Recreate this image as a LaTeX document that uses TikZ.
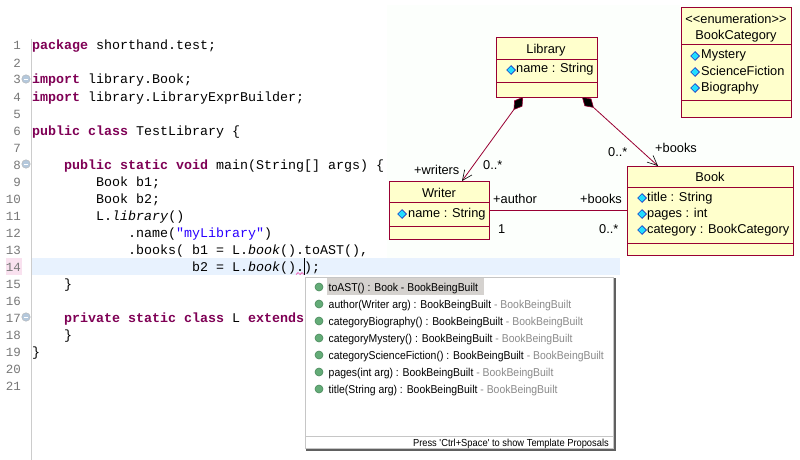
\documentclass[tikz,border=0pt]{standalone}
\usepackage{fontspec}
\usetikzlibrary{arrows.meta,shapes.geometric}
\setmonofont{Liberation Mono}
\newfontfamily\uifont{Liberation Sans}
\newfontfamily\popfont[FakeStretch=0.915]{Liberation Sans}
\definecolor{kw}{HTML}{7F0055}
\definecolor{strc}{HTML}{2A00FF}
\definecolor{numc}{HTML}{787878}
\definecolor{maroon}{HTML}{990033}
\definecolor{umlfill}{HTML}{FFFFCC}
\definecolor{hl}{HTML}{E8F2FE}
\definecolor{suffix}{HTML}{8A8A8A}
\definecolor{ballc}{HTML}{64AC78}
\definecolor{ballrim}{HTML}{4A8A5C}
\definecolor{iconc}{HTML}{22DDFF}
\definecolor{foldc}{HTML}{B4C8DC}
\newcommand{\kwd}[1]{\textcolor{kw}{\bfseries #1}}
\tikzset{
  code/.style={anchor=base west,inner sep=0,font=\ttfamily\fontsize{13.33}{16}\selectfont,text=black},
  lnum/.style={anchor=base east,inner sep=0,font=\ttfamily\fontsize{12.5}{16}\selectfont,text=numc},
  umlbox/.style={draw=maroon,fill=umlfill,line width=0.9pt,anchor=north west,inner sep=0,outer sep=0},
  sepline/.style={draw=maroon,line width=0.9pt},
  conn/.style={draw=maroon,line width=0.8pt},
  umltxt/.style={anchor=base west,inner sep=0,font=\uifont\fontsize{12.8}{15}\selectfont,text=black},
  umlmid/.style={umltxt,anchor=base},
  attricon/.style={diamond,draw=blue!70!black,fill=iconc,line width=0.5pt,inner sep=0,minimum width=9pt,minimum height=9pt},
  ball/.style={circle,fill=ballc,draw=ballrim,line width=0.6pt,inner sep=0,minimum size=8pt},
  popuptxt/.style={anchor=base west,inner sep=0,font=\popfont\fontsize{11.4}{14}\selectfont,text=black},
  statustxt/.style={anchor=base east,inner sep=0,font=\popfont\fontsize{10.2}{13}\selectfont,text=black},
  foldicon/.style={circle,fill=foldc,draw=gray!60,line width=0.4pt,inner sep=0,minimum size=8.5pt}
}
\newcommand{\attr}[5]{% name, icon x, icon y, text x, text
  \node[attricon] (#1i) at (#2,#3) {};
  \node[umltxt] (#1t) at (#4,#3+3) {#5};
}
\begin{document}
\begin{tikzpicture}[x=1pt,y=-1pt]
\useasboundingbox (0,0) rectangle (800,460);
\fill[white] (0,0) rectangle (800,460);
% editor
\fill[hl] (32,258) rectangle (620,275);
\fill[black!15!magenta!12] (6,258) rectangle (22,275);
\draw[gray!40,line width=1pt] (31,39) -- (31,460);
\foreach \n in {1,...,21}{
  \node[lnum] (num\n) at (21,{50+17*(\n-1)}) {\n};
}
\foreach \n/\y in {a/79,b/164,c/317}{
  \node[foldicon] (fold\n) at (26,\y) {};
  \draw[white,line width=0.8pt] (fold\n.west) ++(2,0) -- ++(4.5,0);
}
\node[code] (c1) at (32,50) {\kwd{package} shorthand.test;};
\node[code] (c3) at (32,84) {\kwd{import} library.Book;};
\node[code] (c4) at (32,101) {\kwd{import} library.LibraryExprBuilder;};
\node[code] (c6) at (32,135) {\kwd{public} \kwd{class} TestLibrary \{};
\node[code] (c8) at (64,169) {\kwd{public} \kwd{static} \kwd{void} main(String[] args) \{};
\node[code] (c9) at (96,186) {Book b1;};
\node[code] (c10) at (96,203) {Book b2;};
\node[code] (c11) at (96,220) {L.\textit{library}()};
\node[code] (c12) at (128,237) {.name(\textcolor{strc}{"myLibrary"})};
\node[code] (c13) at (128,254) {.books( b1 = L.\textit{book}().toAST(),};
\node[code] (c14) at (192,271) {b2 = L.\textit{book}().);};
\node[code] (c15) at (64,288) {\}};
\node[code] (c17) at (64,322) {\kwd{private} \kwd{static} \kwd{class} L \kwd{extends}};
\node[code] (c18) at (64,339) {\}};
\node[code] (c19) at (32,356) {\}};
\draw[black,line width=1.6pt] (304.5,258) -- (304.5,275);
\draw[magenta!70,line width=0.7pt] (296,274.5) -- (298,272.5) -- (300,274.5) -- (302,272.5) -- (304,274.5);
% UML panel
\fill[black!1!green!1!white] (387,5) rectangle (800,258);
\node[umlbox,minimum width=101pt,minimum height=60pt] (library) at (496,37) {};
\node[umlbox,minimum width=110pt,minimum height=110pt] (category) at (681,7) {};
\node[umlbox,minimum width=100pt,minimum height=58pt] (writer) at (389,181) {};
\node[umlbox,minimum width=166pt,minimum height=89pt] (book) at (627,166) {};
\draw[sepline] (496,59) -- (597,59) (496,82) -- (597,82);
\draw[sepline] (681,44) -- (791,44) (681,100) -- (791,100);
\draw[sepline] (389,202) -- (489,202) (389,226) -- (489,226);
\draw[sepline] (627,187) -- (793,187) (627,243) -- (793,243);
\node[umlmid] (libT) at (546,54) {Library};
\attr{libA}{511}{70}{516}{name : String}
\node[umlmid] (catS) at (736,24) {<<enumeration>>};
\node[umlmid] (catT) at (736,40) {BookCategory};
\attr{catA}{695}{56}{701}{Mystery}
\attr{catB}{695}{72}{701}{ScienceFiction}
\attr{catC}{695}{88}{701}{Biography}
\node[umlmid] (wriT) at (439,197) {Writer};
\attr{wriA}{402}{214}{408}{name : String}
\node[umlmid] (bokT) at (710,181) {Book};
\attr{bokA}{642}{198}{647}{title : String}
\attr{bokB}{642}{214}{647}{pages : int}
\attr{bokC}{642}{230}{647}{category : BookCategory}
\coordinate (libL) at (523,97);
\coordinate (libR) at (582,97);
\coordinate (wriTop) at (462,181);
\coordinate (bokTop) at (658,166);
\coordinate (wriE) at (489,210);
\coordinate (bokW) at (627,210);
\draw[conn,{Diamond[fill=black,color=maroon,length=16pt,width=10pt,line width=0.6pt]}-{Straight Barb[length=10pt,width=9pt,color=black,line width=0.6pt]}] (libL) -- (wriTop);
\draw[conn,{Diamond[fill=black,color=maroon,length=16pt,width=10pt,line width=0.6pt]}-{Straight Barb[length=10pt,width=9pt,color=black,line width=0.6pt]}] (libR) -- (bokTop);
\draw[conn] (wriE) -- (bokW);
\node[umltxt] (l1) at (414,174) {+writers};
\node[umltxt] (l2) at (483,169) {0..*};
\node[umltxt] (l3) at (608,156) {0..*};
\node[umltxt] (l4) at (655,152) {+books};
\node[umltxt] (l5) at (493,203) {+author};
\node[umltxt] (l6) at (580,203) {+books};
\node[umltxt] (l7) at (498,233) {1};
\node[umltxt] (l8) at (599,233) {0..*};
% popup
\fill[gray!75!black] (306,278) rectangle (615.5,450.5);
\fill[white,draw=gray!45,line width=1pt] (305,277) rectangle (613.5,448.5);
\draw[gray!45,line width=1pt] (306,436) -- (613,436);
\fill[black!10!orange!8!gray!35] (327,278) rectangle (484,295);
\foreach \n/\y in {a/287,b/304,c/321,d/338,e/355,f/372,g/389}{
  \node[ball] (ball\n) at (319,\y) {};
}
\node[popuptxt] (p1) at (328.5,291) {toAST() : Book - BookBeingBuilt};
\node[popuptxt] (p2) at (328.5,308) {author(Writer arg) : BookBeingBuilt \textcolor{suffix}{- BookBeingBuilt}};
\node[popuptxt] (p3) at (328.5,325) {categoryBiography() : BookBeingBuilt \textcolor{suffix}{- BookBeingBuilt}};
\node[popuptxt] (p4) at (328.5,342) {categoryMystery() : BookBeingBuilt \textcolor{suffix}{- BookBeingBuilt}};
\node[popuptxt] (p5) at (328.5,359) {categoryScienceFiction() : BookBeingBuilt \textcolor{suffix}{- BookBeingBuilt}};
\node[popuptxt] (p6) at (328.5,376) {pages(int arg) : BookBeingBuilt \textcolor{suffix}{- BookBeingBuilt}};
\node[popuptxt] (p7) at (328.5,393) {title(String arg) : BookBeingBuilt \textcolor{suffix}{- BookBeingBuilt}};
\node[statustxt] (st) at (609,446) {Press 'Ctrl+Space' to show Template Proposals};
\end{tikzpicture}
\end{document}
